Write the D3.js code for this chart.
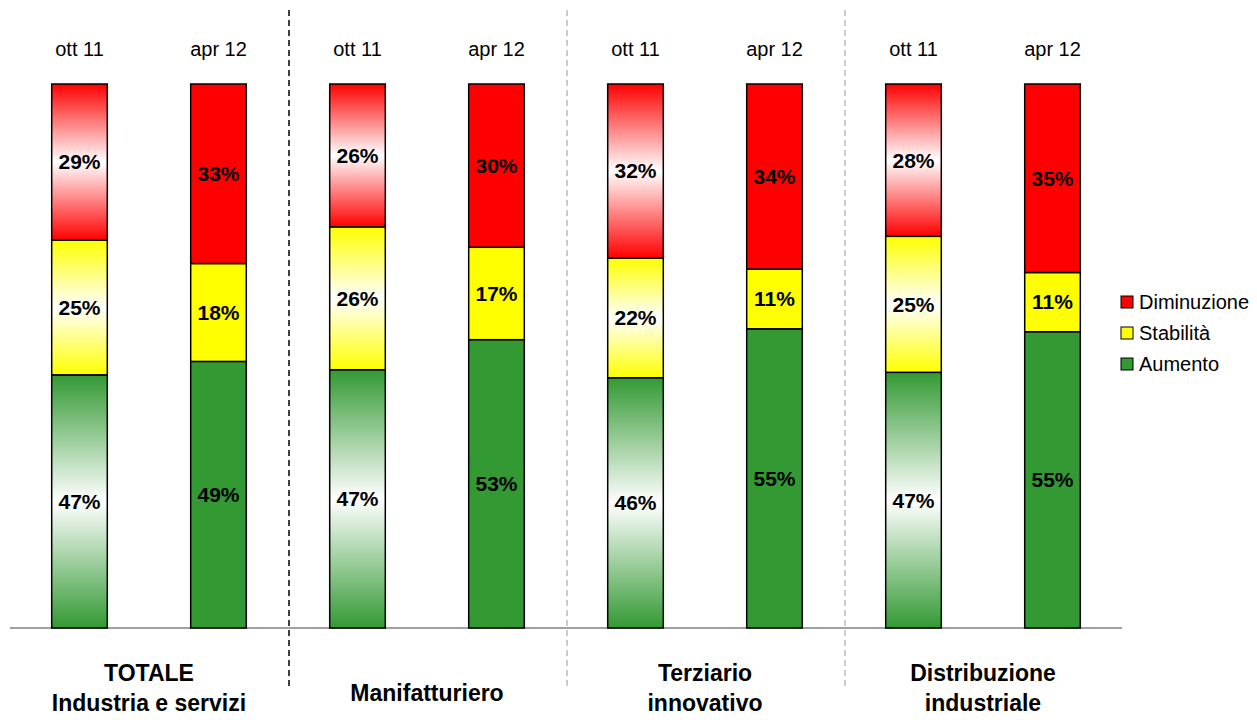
<!DOCTYPE html>
<html>
<head>
<meta charset="utf-8">
<script src="https://cdn.jsdelivr.net/npm/d3@7"></script>
<style>
  body { margin: 0; background: #fff; }
  svg { font-family: Arial, "Liberation Sans", sans-serif; }
</style>
</head>
<body>
<script>
// Data
var groups = [['TOTALE', 'Industria e servizi'], ['Manifatturiero'], ['Terziario', 'innovativo'], ['Distribuzione', 'industriale']];
var periods = ['ott 11', 'apr 12'];
var aumento = [47, 49, 47, 53, 46, 55, 47, 55];
var stabilita = [25, 18, 26, 17, 22, 11, 25, 11];
var diminuzione = [29, 33, 26, 30, 32, 34, 28, 35];
var seriesNames = ['Aumento', 'Stabilità', 'Diminuzione'];
var colors = {Aumento: '#339933', 'Stabilità': '#ffff00', Diminuzione: '#ff0000'};

var width = 1257, height = 720;
var baseline = 628, barTop = 84;

var rows = aumento.map(function(d, i) {
  return {id: i, group: Math.floor(i / 2), period: periods[i % 2],
          Aumento: aumento[i], 'Stabilità': stabilita[i], Diminuzione: diminuzione[i]};
});

var svg = d3.select('body').append('svg')
  .attr('width', width).attr('height', height);

var x = d3.scaleBand().domain(rows.map(function(d) { return d.id; }))
  .range([10, 1122]).paddingInner(0.6).paddingOuter(0.3);
var y = d3.scaleLinear().domain([0, 1]).range([baseline, barTop]);

// Normalised stack (the ott 11 totals are not always exactly 100)
var stack = d3.stack().keys(seriesNames).offset(d3.stackOffsetExpand);
var layers = stack(rows);

// Gradients for the "ott 11" bars: colour at the edges, white at centre
var defs = svg.append('defs');
seriesNames.forEach(function(s, k) {
  var g = defs.append('linearGradient').attr('id', 'grad' + k)
    .attr('x1', 0).attr('y1', 0).attr('x2', 0).attr('y2', 1);
  g.append('stop').attr('offset', '0%').attr('stop-color', colors[s]);
  g.append('stop').attr('offset', '50%').attr('stop-color', '#ffffff');
  g.append('stop').attr('offset', '100%').attr('stop-color', colors[s]);
});

// Separators
var sepColors = ['#000', '#999', '#999'];
[1, 3, 5].forEach(function(i, k) {
  var sx = x(i) + x.bandwidth() + (x.step() - x.bandwidth()) / 2 + 1;
  svg.append('line')
    .attr('x1', sx).attr('x2', sx).attr('y1', 10).attr('y2', 690)
    .attr('stroke', sepColors[k]).attr('stroke-width', k === 0 ? 1.5 : 1)
    .attr('stroke-dasharray', '6,4');
});

// Axis line
svg.append('line').attr('x1', 10).attr('x2', 1122)
  .attr('y1', baseline).attr('y2', baseline)
  .attr('stroke', '#808080').attr('stroke-width', 1.5);

// Bars
layers.forEach(function(layer, k) {
  var g = svg.append('g');
  g.selectAll('rect').data(layer).enter().append('rect')
    .attr('x', function(d) { return x(d.data.id); })
    .attr('width', x.bandwidth())
    .attr('y', function(d) { return y(d[1]); })
    .attr('height', function(d) { return y(d[0]) - y(d[1]); })
    .attr('fill', function(d) {
      return d.data.id % 2 === 0 ? 'url(#grad' + k + ')' : colors[layer.key];
    })
    .attr('stroke', '#000').attr('stroke-width', 1.5);

  g.selectAll('text').data(layer).enter().append('text')
    .attr('x', function(d) { return x(d.data.id) + x.bandwidth() / 2; })
    .attr('y', function(d) { return (y(d[0]) + y(d[1])) / 2; })
    .attr('dy', '0.35em')
    .attr('text-anchor', 'middle')
    .attr('font-size', 21).attr('font-weight', 'bold')
    .text(function(d) { return d.data[layer.key] + '%'; });
});

// Period labels
svg.selectAll('.period').data(rows).enter().append('text')
  .attr('class', 'period')
  .attr('x', function(d) { return x(d.id) + x.bandwidth() / 2; })
  .attr('y', 56)
  .attr('text-anchor', 'middle')
  .attr('font-size', 20)
  .text(function(d) { return d.period; });

// Group labels
groups.forEach(function(lines, gi) {
  var cx = (x(gi * 2) + x(gi * 2 + 1) + x.bandwidth()) / 2;
  var t = svg.append('text').attr('text-anchor', 'middle')
    .attr('font-size', 23).attr('font-weight', 'bold');
  var y0 = lines.length === 1 ? 701 : 681;
  lines.forEach(function(l, li) {
    t.append('tspan').attr('x', cx).attr('y', y0 + li * 30).text(l);
  });
});

// Legend
var legendItems = seriesNames.slice().reverse();
var legend = svg.append('g').attr('transform', 'translate(1121,302)');
legendItems.forEach(function(s, i) {
  var row = legend.append('g').attr('transform', 'translate(0,' + (i * 31) + ')');
  row.append('rect').attr('x', 0).attr('y', -6).attr('width', 12).attr('height', 12)
    .attr('fill', colors[s]).attr('stroke', '#000').attr('stroke-width', 1);
  row.append('text').attr('x', 18).attr('y', 0).attr('dy', '0.35em')
    .attr('font-size', 20).text(s);
});
</script>
</body>
</html>
